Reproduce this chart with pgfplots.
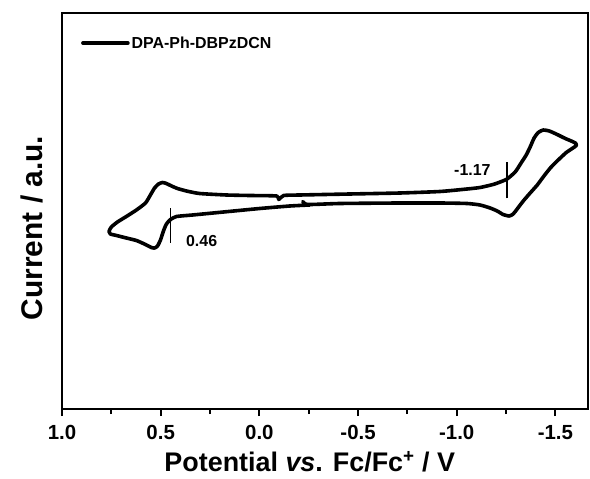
\documentclass[border=0pt]{standalone}
\usepackage{pgfplots}
\pgfplotsset{compat=1.18}
\usepackage{fontspec}
\setmainfont{Liberation Sans}
\begin{document}
\begin{tikzpicture}
\begin{axis}[
  scale only axis, width=526bp, height=396bp,
  x dir=reverse, xmin=-1.665, xmax=1.0, ymin=0, ymax=396,
  axis line style={line width=2bp},
  xtick={1,0.5,0,-0.5,-1,-1.5},
  xticklabels={1.0,0.5,0.0,-0.5,-1.0,-1.5},
  minor xtick={0.75,0.25,-0.25,-0.75,-1.25},
  ytick=\empty, xtick pos=lower, tick align=outside,
  major tick length=7bp, minor tick length=5bp,
  every tick/.style={line width=2bp,black},
  xticklabel style={font=\fontsize{20.5}{20.5}\selectfont\bfseries, yshift=-6bp},
  xlabel={Potential \textit{vs}. Fc/Fc\textsuperscript{+} / V},
  xlabel style={font=\fontsize{27}{27}\selectfont\bfseries,
    at={(axis description cs:0.471,-0.157)}, anchor=base},
  ylabel={Current / a.u.},
  ylabel style={font=\fontsize{30}{30}\selectfont\bfseries,
    at={(axis description cs:-0.037,0.457)}, rotate=0, anchor=base},
  legend style={at={(axis description cs:0.036,0.924)}, anchor=west,
    draw=none, fill=none, inner sep=0pt,
    font=\fontsize{16}{16}\selectfont\bfseries},
  legend image code/.code={\draw[#1] (0bp,0bp) -- (45bp,0bp);},
  clip=false,
]
\addplot[black, line width=3.6bp, line join=round, line cap=round, smooth, tension=0.35] coordinates {
 (-0.220,207.5) (-0.245,204.5) (-0.408,205.5) (-0.712,206) (-0.915,206)
 (-1.052,205.5) (-1.118,204) (-1.169,201) (-1.205,198) (-1.235,194.5)
 (-1.266,193) (-1.286,195) (-1.306,200) (-1.337,208) (-1.372,216)
 (-1.408,224) (-1.438,232) (-1.474,241) (-1.514,249) (-1.555,256.5)
 (-1.585,260.5) (-1.606,263.5) (-1.601,266) (-1.580,268) (-1.550,270.5)
 (-1.509,274.5) (-1.469,278) (-1.438,279) (-1.413,276.5) (-1.392,271)
 (-1.372,262) (-1.352,254) (-1.326,246) (-1.296,237) (-1.255,230)
 (-1.220,227) (-1.184,224.5) (-1.118,221.5) (-1.052,220) (-0.915,217.5)
 (-0.712,216) (-0.458,215) (-0.205,214) (-0.123,213.5) (-0.098,209.5)
 (-0.088,213) (0.049,213.5) (0.166,214) (0.303,215.5) (0.369,218)
 (0.415,220.5) (0.445,223) (0.471,225.5) (0.491,226.5) (0.511,225)
 (0.531,221) (0.552,214) (0.577,206) (0.623,199) (0.674,192.5)
 (0.719,187) (0.750,182) (0.762,177.5) (0.755,175) (0.724,173.5)
 (0.674,171) (0.623,168.5) (0.577,164.5) (0.547,161.5) (0.531,161)
 (0.516,163) (0.501,169) (0.486,178) (0.471,185) (0.450,189.5)
 (0.420,192.5) (0.339,194) (0.166,197.3) (-0.002,200.5) (-0.154,203)
 (-0.255,204)
};
\addlegendentry{DPA-Ph-DBPzDCN}
\addplot[black, line width=1.3bp, forget plot] coordinates {(0.45,166) (0.45,201)};
\addplot[black, line width=1.3bp, forget plot] coordinates {(-1.255,210.7) (-1.255,247.3)};
\node[anchor=base west, font=\fontsize{16}{16}\selectfont\bfseries] at (axis cs:0.389,162.5) {0.46};
\node[anchor=base east, font=\fontsize{16}{16}\selectfont\bfseries] at (axis cs:-1.189,233) {-1.17};
\coordinate (bl) at (axis description cs:0,0);
\coordinate (tr) at (axis description cs:1,1);
\end{axis}
\pgfresetboundingbox
\path ([shift={(-62bp,-70bp)}]bl) rectangle ([shift={(2bp,13bp)}]tr);
\end{tikzpicture}
\end{document}
